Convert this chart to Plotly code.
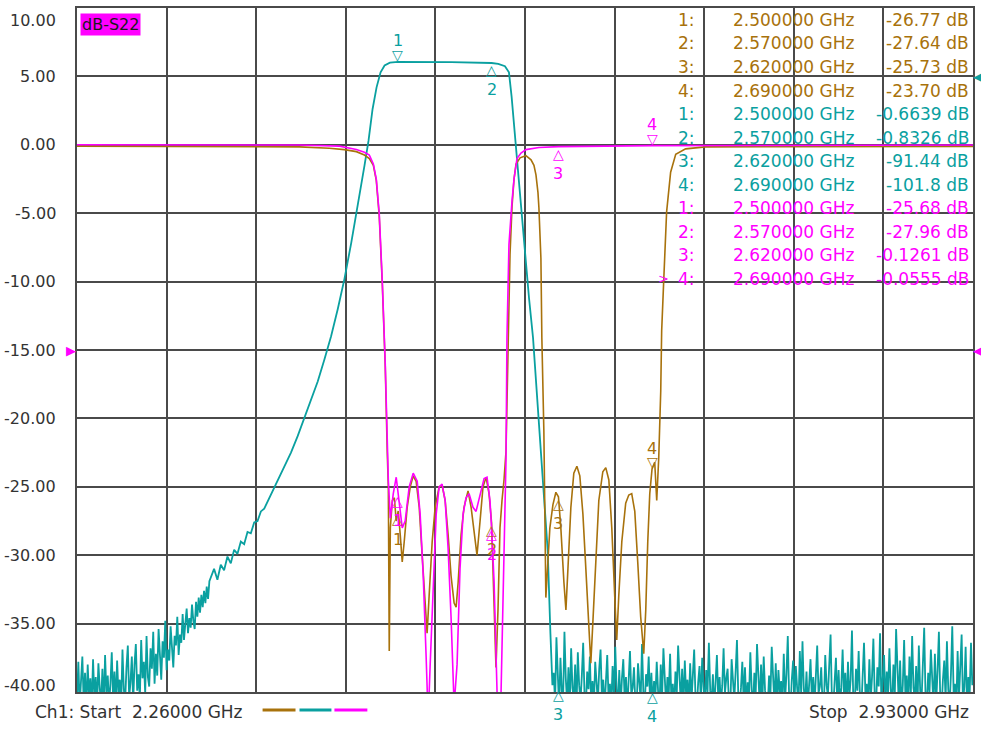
import numpy as np
import plotly.graph_objects as go

# ---------------- axis / sweep data ----------------
START_GHZ = 2.26
STOP_GHZ = 2.93
Y_TOP = 10.0
Y_BOTTOM = -40.0
Y_TICKS = [10, 5, 0, -5, -10, -15, -20, -25, -30, -35, -40]
N_XDIV = 10

# ---------------- S22 (magenta) ----------------
S22_FREQ = [2.2600, 2.4264, 2.4562, 2.4689, 2.4749, 2.4786, 2.4816, 2.4838, 2.4860, 2.4883,
            2.4905, 2.4920, 2.4928, 2.4943, 2.4965, 2.4987, 2.5002, 2.5032, 2.5054, 2.5084,
            2.5114, 2.5144, 2.5166, 2.5189, 2.5211, 2.5226, 2.5241, 2.5263, 2.5286, 2.5308,
            2.5330, 2.5353, 2.5375, 2.5397, 2.5420, 2.5442, 2.5464, 2.5487, 2.5509, 2.5532,
            2.5561, 2.5584, 2.5614, 2.5644, 2.5666, 2.5688, 2.5700, 2.5719, 2.5741, 2.5756,
            2.5771, 2.5786, 2.5801, 2.5808, 2.5815, 2.5830, 2.5853, 2.5868, 2.5890, 2.5920,
            2.5957, 2.6054, 2.6200, 2.6900, 2.9300]
S22_DB = [0.0, -0.02, -0.1, -0.35, -0.55, -0.75, -1.4, -2.5, -5.0, -10.0,
          -16.0, -22.4, -24.5, -27.3, -25.5, -24.3, -25.7, -28.0, -27.5, -25.0,
          -24.0, -24.6, -27.0, -31.5, -37.5, -42.0, -38.0, -32.0, -27.0, -25.0,
          -24.8, -26.0, -29.5, -34.5, -41.0, -38.0, -31.0, -27.0, -25.8, -25.5,
          -26.5, -26.8, -25.5, -24.4, -24.3, -26.0, -27.96, -32.0, -40.0, -44.0,
          -40.0, -32.0, -25.0, -23.0, -14.1, -7.3, -4.1, -2.5, -1.0, -0.6,
          -0.35, -0.2, -0.13, -0.06, -0.02]

# ---------------- S11 (brown) ----------------
S11_FREQ = [2.2600, 2.4264, 2.4487, 2.4599, 2.4689, 2.4749, 2.4786, 2.4816, 2.4838, 2.4860,
            2.4883, 2.4905, 2.4920, 2.4928, 2.4935, 2.4943, 2.4958, 2.4973, 2.4987, 2.5002,
            2.5017, 2.5032, 2.5047, 2.5069, 2.5092, 2.5114, 2.5136, 2.5159, 2.5181, 2.5203,
            2.5218, 2.5233, 2.5256, 2.5278, 2.5308, 2.5330, 2.5353, 2.5375, 2.5397, 2.5420,
            2.5435, 2.5450, 2.5472, 2.5494, 2.5524, 2.5547, 2.5569, 2.5591, 2.5614, 2.5636,
            2.5659, 2.5681, 2.5700, 2.5711, 2.5726, 2.5733, 2.5748, 2.5763, 2.5778, 2.5793,
            2.5808, 2.5823, 2.5838, 2.5853, 2.5868, 2.5883, 2.5913, 2.5957, 2.5995, 2.6017,
            2.6032, 2.6047, 2.6054, 2.6069, 2.6076, 2.6091, 2.6099, 2.6106, 2.6121, 2.6136,
            2.6159, 2.6181, 2.6200, 2.6218, 2.6241, 2.6256, 2.6271, 2.6293, 2.6315, 2.6338,
            2.6360, 2.6383, 2.6405, 2.6427, 2.6442, 2.6457, 2.6480, 2.6502, 2.6532, 2.6554,
            2.6577, 2.6599, 2.6621, 2.6636, 2.6651, 2.6674, 2.6703, 2.6726, 2.6748, 2.6771,
            2.6793, 2.6815, 2.6838, 2.6853, 2.6868, 2.6883, 2.6900, 2.6920, 2.6935, 2.6942,
            2.6950, 2.6965, 2.6972, 2.6987, 2.7009, 2.7039, 2.7077, 2.7151, 2.7300, 2.9300]
S11_DB = [-0.1, -0.15, -0.25, -0.35, -0.5, -0.75, -1.0, -1.5, -2.6, -5.2,
          -10.2, -16.2, -22.5, -25.0, -37.0, -28.0, -26.0, -25.8, -27.5, -26.77,
          -28.5, -30.5, -29.0, -26.5, -25.0, -24.2, -24.6, -26.5, -30.0, -33.5,
          -35.7, -33.0, -29.0, -26.5, -25.0, -24.9, -26.0, -28.5, -31.5, -33.5,
          -33.8, -32.0, -28.5, -26.5, -25.3, -26.5, -28.5, -30.0, -27.5, -25.0,
          -24.3, -25.5, -27.64, -31.0, -36.0, -38.2, -34.0, -28.0, -26.0, -24.5,
          -22.4, -14.0, -8.0, -4.5, -2.5, -1.4, -0.95, -0.8, -1.1, -1.5,
          -2.2, -3.5, -4.6, -8.3, -14.1, -20.9, -26.0, -33.1, -30.5, -28.0,
          -26.3, -25.4, -25.73, -28.0, -32.0, -34.0, -31.0, -26.5, -24.0, -23.5,
          -24.2, -27.0, -31.0, -35.5, -37.9, -35.0, -30.0, -26.0, -23.9, -23.6,
          -24.5, -28.0, -33.0, -36.2, -33.0, -29.0, -26.2, -25.6, -25.5, -26.8,
          -30.5, -34.5, -37.2, -34.0, -29.0, -25.5, -23.7, -23.2, -26.0, -24.5,
          -22.9, -18.0, -13.6, -10.0, -4.9, -2.0, -0.7, -0.3, -0.15, -0.12]

# ---------------- S21 (teal), shown with its own offset scale ----------------
S21_NOISE_STEP = 0.001
S21_LEFT_START = 2.2600
S21_LEFT_NOISE = [-40.6, -37.8, -41.0, -39.2, -37.4, -40.8, -38.6, -41.2, -38.0, -40.3,
                  -39.0, -41.1, -37.6, -40.5, -38.9, -41.0, -37.9, -39.7, -40.9, -38.3,
                  -41.2, -37.3, -40.1, -38.8, -41.0, -39.4, -37.1, -40.6, -38.5, -40.9,
                  -37.7, -40.2, -39.1, -41.1, -36.9, -39.8, -40.7, -38.2, -36.6, -40.4,
                  -39.3, -37.4, -40.8, -38.0, -36.5, -39.9, -38.7, -40.5, -36.2, -39.0,
                  -37.8, -40.1, -35.9, -38.9, -39.6, -36.8, -38.3, -35.6, -39.4, -37.2,
                  -38.8, -35.4, -37.9, -39.1, -36.3, -37.5, -34.8, -38.4, -36.9, -37.7,
                  -35.2, -37.0, -38.2, -35.9, -36.6, -34.5, -37.3, -35.8, -36.4, -34.3,
                  -36.2, -35.0, -33.9, -35.7, -34.6, -35.3, -33.6, -34.8, -35.4, -33.4,
                  -34.5, -33.1, -34.2, -32.9, -33.8, -32.6, -33.5, -32.3, -33.2, -31.9]
S21_MID_FREQ = [2.3600, 2.3625, 2.3650, 2.3675, 2.3700, 2.3725, 2.3750, 2.3775, 2.3800, 2.3825,
                2.3850, 2.3875, 2.3900, 2.3925, 2.3950, 2.3975, 2.4000, 2.4050, 2.4100, 2.4150,
                2.4200, 2.4250, 2.4300, 2.4350, 2.4400, 2.4450, 2.4500, 2.4550, 2.4600, 2.4650,
                2.4700, 2.4750, 2.4780, 2.4810, 2.4840, 2.4870, 2.4900, 2.4940, 2.5000, 2.5400,
                2.5700, 2.5750, 2.5800, 2.5830, 2.5850, 2.5870, 2.5890, 2.5910, 2.5940, 2.5980,
                2.6010, 2.6040, 2.6070, 2.6090, 2.6120, 2.6140, 2.6155]
S21_MID_DB = [-31.6, -31.0, -31.8, -30.7, -31.1, -30.1, -30.6, -29.6, -29.9, -29.0,
              -29.2, -28.3, -28.4, -27.6, -27.5, -26.8, -26.6, -25.6, -24.6, -23.6,
              -22.5, -21.3, -20.0, -18.7, -17.3, -15.7, -14.0, -12.0, -9.8, -7.2,
              -4.5, -1.5, 0.3, 2.6, 4.2, 5.3, 5.8, 6.0, 6.06, 6.05,
              5.98, 5.92, 5.75, 5.3, 3.5, 1.2, -1.0, -3.5, -7.0, -11.2,
              -14.1, -18.5, -23.1, -25.8, -29.7, -35.7, -39.5]
S21_RIGHT_START = 2.6165
S21_RIGHT_NOISE = [-38.6, -40.8, -36.0, -39.4, -41.2, -37.5, -39.9, -40.6, -35.6, -39.0,
                   -40.9, -38.2, -41.0, -36.8, -39.7, -40.5, -38.0, -41.3, -37.1, -39.5,
                   -40.7, -38.8, -36.4, -40.2, -41.1, -38.5, -39.8, -37.4, -40.9, -39.2,
                   -41.0, -37.8, -39.6, -40.8, -38.3, -36.9, -40.4, -39.1, -41.2, -38.6,
                   -37.3, -40.6, -39.4, -41.0, -38.1, -40.3, -36.7, -39.8, -40.9, -38.4,
                   -41.1, -39.0, -37.6, -40.5, -38.9, -41.3, -39.5, -37.0, -40.2, -39.7,
                   -38.2, -40.8, -41.2, -37.9, -39.3, -40.6, -36.5, -40.0, -41.0, -38.7,
                   -39.6, -37.4, -40.7, -38.6, -41.1, -39.2, -40.4, -37.8, -39.9, -41.3,
                   -38.0, -40.5, -36.8, -39.7, -41.0, -38.9, -40.2, -37.2, -40.8, -39.4,
                   -41.2, -38.5, -40.1, -36.6, -39.8, -40.9, -38.3, -41.1, -37.7, -40.3,
                   -39.1, -41.0, -37.9, -40.6, -38.8, -36.9, -40.4, -41.2, -39.3, -38.1,
                   -40.7, -37.5, -39.6, -41.1, -38.4, -40.0, -36.4, -39.9, -40.8, -38.7,
                   -41.3, -39.2, -37.3, -40.5, -38.9, -41.0, -39.5, -36.8, -40.1, -39.0,
                   -38.3, -40.9, -41.2, -37.6, -39.4, -40.6, -38.5, -36.2, -40.3, -41.0,
                   -39.7, -37.8, -40.7, -38.2, -41.1, -39.3, -40.4, -37.1, -39.8, -41.2,
                   -38.6, -40.2, -36.5, -39.5, -41.0, -38.0, -40.8, -37.4, -39.9, -40.5,
                   -41.1, -38.8, -40.3, -36.7, -39.6, -40.9, -37.9, -41.2, -38.4, -40.0,
                   -39.2, -41.0, -37.2, -40.6, -38.7, -35.9, -40.4, -41.3, -39.1, -37.7,
                   -40.8, -38.1, -39.7, -41.1, -37.0, -40.2, -36.3, -39.8, -40.7, -38.5,
                   -41.2, -39.4, -37.6, -40.5, -38.9, -41.0, -39.0, -36.6, -40.1, -39.6,
                   -38.2, -40.9, -41.1, -37.3, -39.5, -40.3, -38.0, -35.8, -40.6, -41.2,
                   -39.3, -37.5, -40.8, -38.4, -41.0, -39.7, -36.9, -40.2, -38.6, -41.3,
                   -37.8, -40.4, -39.1, -35.5, -40.7, -41.1, -38.3, -39.9, -37.0, -40.5,
                   -41.2, -38.7, -36.4, -40.0, -39.4, -41.0, -37.6, -40.6, -38.9, -36.1,
                   -40.3, -41.1, -38.2, -39.6, -35.7, -40.8, -39.0, -37.3, -41.2, -38.5,
                   -40.1, -36.8, -39.8, -41.0, -38.0, -40.4, -35.4, -39.3, -40.9, -37.7,
                   -41.3, -39.5, -36.2, -40.6, -38.8, -41.1, -37.4, -40.2, -35.9, -39.7,
                   -40.5, -38.1, -41.2, -36.6, -39.9, -40.7, -37.9, -35.3, -40.3, -41.0,
                   -38.6, -40.0, -36.9, -39.2, -41.1, -37.2, -40.8, -38.4, -35.6, -40.4,
                   -41.2, -39.1, -37.7, -40.6, -36.3, -39.8, -41.0, -38.7, -35.2, -40.1,
                   -39.4, -41.3, -37.0, -40.5, -38.2, -35.8, -40.9, -39.6, -36.7, -41.1,
                   -38.9, -40.2, -36.4, -39.5]

# ---------------- markers ----------------
MARKER_FREQ = [2.50, 2.57, 2.62, 2.69]
S11_MKR = [-26.77, -27.64, -25.73, -23.70]
S21_MKR = [-0.6639, -0.8326, -91.44, -101.8]
S22_MKR = [-25.68, -27.96, -0.1261, -0.0555]
ACTIVE_TRACE = 'S22'
ACTIVE_MARKER = 4

# reference-level arrows (display units)
S22_REF = -15.0
S21_REF = 5.0

C_S11 = '#a8720c'
C_S21 = '#0aa0a0'
C_S22 = '#ff00ff'
FONT = 'DejaVu Sans'

# ---------------- build traces ----------------
left_f = [S21_LEFT_START + i * S21_NOISE_STEP for i in range(len(S21_LEFT_NOISE))]
right_f = [S21_RIGHT_START + i * S21_NOISE_STEP for i in range(len(S21_RIGHT_NOISE))]
S21_FREQ_ALL = left_f + S21_MID_FREQ + right_f
S21_DB_ALL = S21_LEFT_NOISE + S21_MID_DB + S21_RIGHT_NOISE

fig = go.Figure()
for name, fx, fy, col, lw in [('S21', S21_FREQ_ALL, S21_DB_ALL, C_S21, 1.8),
                              ('S11', S11_FREQ, S11_DB, C_S11, 1.6),
                              ('S22', S22_FREQ, S22_DB, C_S22, 1.6)]:
    fig.add_trace(go.Scatter(x=fx, y=fy, mode='lines', name=name,
                             line=dict(color=col, width=lw), hoverinfo='skip'))

# ---------------- layout helpers ----------------
L, R, T, B = 77, 6, 6, 38
W, H = 981, 730
PW, PH = W - L - R, H - T - B


def px(xp):
    return (xp - L) / PW


def py(yp):
    return (H - B - yp) / PH


ann = []

# y tick labels
for v in Y_TICKS:
    shift = 0
    if v == Y_TOP:
        shift = -12
    elif v == Y_BOTTOM:
        shift = 7
    ann.append(dict(x=0, xref='paper', y=v, yref='y', text=f"{v:.2f}", showarrow=False,
                    xanchor='right', yanchor='middle', xshift=-19, yshift=shift,
                    font=dict(family=FONT, size=16, color='#333333')))

# marker triangles and labels on the traces
orient = {'S21': ['down', 'up', 'up', 'up'],
          'S11': ['up', 'up', 'up', 'down'],
          'S22': ['up', 'up', 'up', 'down']}
traces_xy = {'S21': (S21_FREQ_ALL, S21_DB_ALL, C_S21),
             'S11': (S11_FREQ, S11_DB, C_S11),
             'S22': (S22_FREQ, S22_DB, C_S22)}
for key in ['S21', 'S11', 'S22']:
    fx, fy, col = traces_xy[key]
    for i, f in enumerate(MARKER_FREQ):
        yv = float(np.interp(f, fx, fy))
        down = orient[key][i] == 'down'
        if yv < Y_BOTTOM:
            # marker clamped to the bottom edge of the grid
            ypos, yref = 0, 'paper'
            tri_shift, lab_shift = -3, -22
        else:
            ypos, yref = min(yv, Y_TOP), 'y'
            tri_shift, lab_shift = (7, 21) if down else (-7, -27)
        ann.append(dict(x=f, y=ypos, xref='x', yref=yref, text='▽' if down else '△',
                        showarrow=False, xanchor='center', yanchor='middle',
                        yshift=tri_shift,
                        font=dict(family=FONT, size=14, color=col)))
        ann.append(dict(x=f, y=ypos, xref='x', yref=yref, text=str(i + 1),
                        showarrow=False, xanchor='center', yanchor='middle',
                        yshift=lab_shift,
                        font=dict(family=FONT, size=16, color=col)))


def fmt_db(v):
    if abs(v) < 1:
        return f"{v:.4f} dB"
    return f"{v:#.4g} dB"


# marker table
rows = []
for key, vals, col in [('S11', S11_MKR, C_S11), ('S21', S21_MKR, C_S21), ('S22', S22_MKR, C_S22)]:
    for i, (f, v) in enumerate(zip(MARKER_FREQ, vals)):
        rows.append((key, i + 1, f, v, col))
for r, (key, idx, f, v, col) in enumerate(rows):
    ypx = 18 + 23.6 * r
    tf = dict(family=FONT, size=17, color=col)
    ann.append(dict(x=px(698), y=py(ypx), xref='paper', yref='paper', text=f"{idx}:",
                    showarrow=False, xanchor='right', yanchor='middle', font=tf))
    ann.append(dict(x=px(858), y=py(ypx), xref='paper', yref='paper', text=f"{f:.6f} GHz",
                    showarrow=False, xanchor='right', yanchor='middle', font=tf))
    ann.append(dict(x=px(973), y=py(ypx), xref='paper', yref='paper', text=fmt_db(v),
                    showarrow=False, xanchor='right', yanchor='middle', font=tf))
    if key == ACTIVE_TRACE and idx == ACTIVE_MARKER:
        ann.append(dict(x=px(672), y=py(ypx), xref='paper', yref='paper', text=">",
                        showarrow=False, xanchor='right', yanchor='middle',
                        font=dict(family=FONT, size=13, color=col)))

# trace title box
ann.append(dict(x=px(80), y=py(11), xref='paper', yref='paper', text='dB-S22',
                showarrow=False, xanchor='left', yanchor='top', bgcolor=C_S22,
                borderpad=1, font=dict(family=FONT, size=16, color='#1a1a1a')))

# reference level arrows
ann.append(dict(x=0, xref='paper', y=S22_REF, yref='y', text='▶', showarrow=False,
                xanchor='right', yanchor='middle', xshift=1,
                font=dict(family=FONT, size=13, color=C_S22)))
ann.append(dict(x=1, xref='paper', y=S22_REF, yref='y', text='◀', showarrow=False,
                xanchor='left', yanchor='middle', xshift=-2,
                font=dict(family=FONT, size=13, color=C_S22)))
ann.append(dict(x=1, xref='paper', y=S21_REF, yref='y', text='◀', showarrow=False,
                xanchor='left', yanchor='middle', xshift=-2,
                font=dict(family=FONT, size=13, color=C_S21)))

# footer
ann.append(dict(x=px(33), y=py(712), xref='paper', yref='paper',
                text=f"Ch1: Start\u00a0\u00a0{START_GHZ:.5f} GHz", showarrow=False,
                xanchor='left', yanchor='middle', font=dict(family=FONT, size=17, color='#333333')))
ann.append(dict(x=px(973), y=py(712), xref='paper', yref='paper',
                text=f"Stop\u00a0\u00a0{STOP_GHZ:.5f} GHz", showarrow=False,
                xanchor='right', yanchor='middle', font=dict(family=FONT, size=17, color='#333333')))

shapes = []
for col, x0, x1 in [(C_S11, 263, 296), (C_S21, 300, 332), (C_S22, 335, 368)]:
    shapes.append(dict(type='line', xref='paper', yref='paper', x0=px(x0), x1=px(x1),
                       y0=py(710), y1=py(710), line=dict(color=col, width=3)))

x_grid = [START_GHZ + k * (STOP_GHZ - START_GHZ) / N_XDIV for k in range(N_XDIV + 1)]

fig.update_layout(
    width=W, height=H, margin=dict(l=L, r=R, t=T, b=B, pad=0),
    paper_bgcolor='white', plot_bgcolor='white', showlegend=False,
    font=dict(family=FONT),
    annotations=ann, shapes=shapes,
    xaxis=dict(range=[START_GHZ, STOP_GHZ], tickvals=x_grid, showticklabels=False,
               showgrid=True, gridcolor='#4a4a4a', gridwidth=1.6, zeroline=False,
               showline=True, mirror=True, linecolor='#4a4a4a', linewidth=2, ticks=''),
    yaxis=dict(range=[Y_BOTTOM, Y_TOP], tickvals=Y_TICKS, showticklabels=False,
               showgrid=True, gridcolor='#4a4a4a', gridwidth=1.6, zeroline=False,
               showline=True, mirror=True, linecolor='#4a4a4a', linewidth=2, ticks=''),
)

fig.write_html("out.html", config={'displayModeBar': False},
               post_script="document.body.style.margin='0';")
